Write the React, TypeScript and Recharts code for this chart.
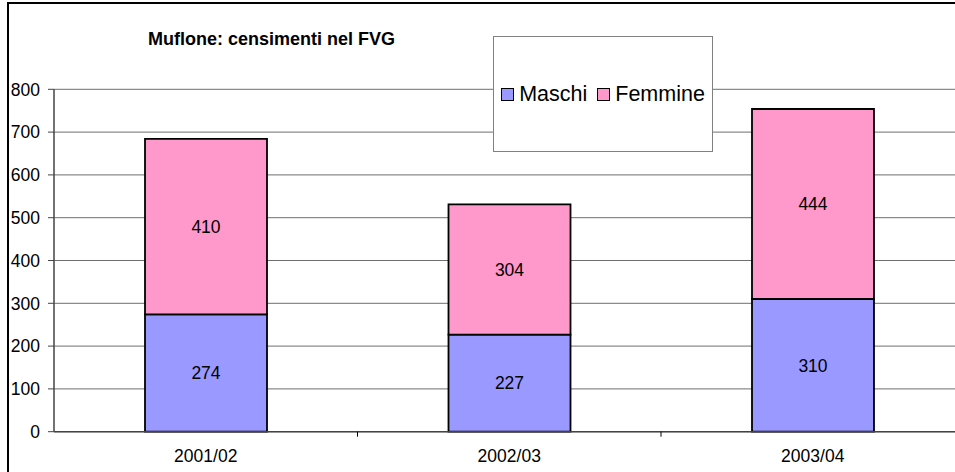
import React from "react";
import {
  Bar,
  BarChart,
  CartesianGrid,
  LabelList,
  Legend,
  XAxis,
  YAxis,
} from "recharts";

const CATEGORIES = ["2001/02", "2002/03", "2003/04"];
const MASCHI = [274, 227, 310];
const FEMMINE = [410, 304, 444];
const Y_TICKS = [0, 100, 200, 300, 400, 500, 600, 700, 800];
const SERIES = ["Maschi", "Femmine"];
const TITLE = "Muflone: censimenti nel FVG";

const COLORS: Record<string, string> = { Maschi: "#9999FF", Femmine: "#FF99CC" };
const FONT = "'Liberation Sans', Arial, sans-serif";
const X_TICK_GAP = 18;

const rows = CATEGORIES.map((name, i) => ({
  name,
  Maschi: MASCHI[i],
  Femmine: FEMMINE[i],
}));

// label at the band centre, small tick mark on the band's left edge (Excel style)
function CategoryTick({ x, y, payload, index }: any) {
  const half = payload?.offset ?? 0;
  const axisY = y - X_TICK_GAP;
  return (
    <g>
      {index > 0 && (
        <line
          x1={x - half}
          x2={x - half}
          y1={axisY}
          y2={axisY + 5}
          stroke="#000"
        />
      )}
      <text
        x={x}
        y={y}
        dy="0.71em"
        textAnchor="middle"
        fontSize={17.5}
        fill="#000"
      >
        {payload.value}
      </text>
    </g>
  );
}

function LegendBox({ payload }: any) {
  const items = [...(payload ?? [])].sort(
    (a: any, b: any) => SERIES.indexOf(a.value) - SERIES.indexOf(b.value)
  );
  return (
    <div
      style={{
        width: 220,
        height: 116,
        boxSizing: "border-box",
        border: "1px solid #808080",
        background: "#fff",
        display: "flex",
        alignItems: "center",
        justifyContent: "center",
        fontFamily: FONT,
        fontSize: 21.5,
        color: "#000",
        gap: 10,
      }}
    >
      {items.map((p: any) => (
        <span key={p.value} style={{ display: "flex", alignItems: "center" }}>
          <span
            style={{
              width: 11,
              height: 11,
              background: COLORS[p.value] ?? p.color,
              border: "1.5px solid #000",
              marginRight: 5,
            }}
          />
          {p.value}
        </span>
      ))}
    </div>
  );
}

export default function App() {
  return (
    <div
      style={{
        position: "fixed",
        left: 0,
        top: 0,
        width: 955,
        height: 472,
        overflow: "hidden",
        background: "#fff",
      }}
    >
      <div
        style={{
          position: "absolute",
          left: 7,
          top: 2,
          width: 1000,
          height: 500,
          borderLeft: "2px solid #000",
          borderTop: "2px solid #000",
        }}
      />
      <div
        style={{
          position: "absolute",
          left: 148,
          top: 29,
          fontFamily: FONT,
          fontWeight: "bold",
          fontSize: 18,
          whiteSpace: "nowrap",
        }}
      >
        {TITLE}
      </div>
      <div style={{ position: "absolute", left: 0, top: 0 }}>
        <BarChart
          width={1000}
          height={500}
          data={rows}
          margin={{ top: 89.3, right: 35.5, bottom: 38.3, left: 0 }}
          style={{ fontFamily: FONT }}
        >
          <CartesianGrid vertical={false} stroke="#6f6f6f" />
          <XAxis
            dataKey="name"
            axisLine={{ stroke: "#444", strokeWidth: 1.5 }}
            tickLine={false}
            tickSize={X_TICK_GAP}
            tickMargin={0}
            height={30}
            interval={0}
            tick={<CategoryTick />}
          />
          <YAxis
            domain={[0, 800]}
            ticks={Y_TICKS}
            width={54}
            interval={0}
            axisLine={{ stroke: "#444", strokeWidth: 1.5 }}
            tickLine={{ stroke: "#444" }}
            tickSize={6}
            tickMargin={8}
            tick={{ fontSize: 17.5, fill: "#000" }}
          />
          <Legend
            layout="horizontal"
            verticalAlign="middle"
            align="center"
            wrapperStyle={{ left: 493, top: 36, width: 220, height: 116 }}
            content={<LegendBox />}
          />
          {SERIES.map((key) => (
            <Bar
              key={key}
              dataKey={key}
              stackId="a"
              fill={COLORS[key]}
              stroke="#000"
              strokeWidth={1.8}
              barSize={122}
              isAnimationActive={false}
            >
              <LabelList
                dataKey={key}
                position="center"
                fill="#000"
                fontSize={17.5}
              />
            </Bar>
          ))}
        </BarChart>
      </div>
    </div>
  );
}
